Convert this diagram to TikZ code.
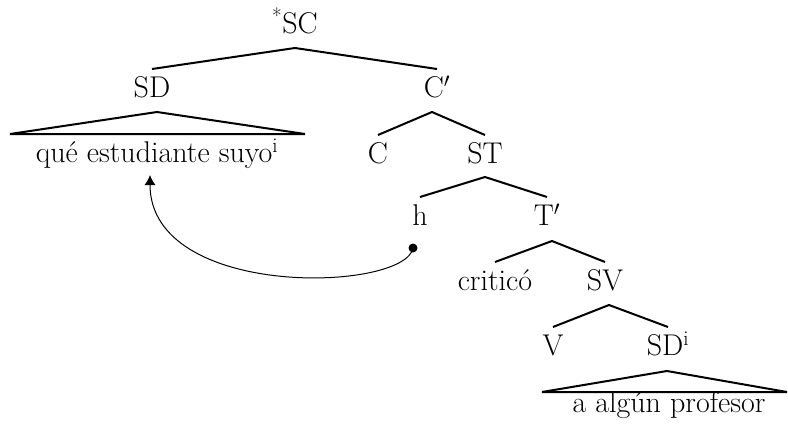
\documentclass[tikz,border=0pt]{standalone}
\usetikzlibrary{arrows.meta}
\begin{document}
\begin{tikzpicture}[x=1pt,y=-1pt,
  lab/.style={anchor=base,inner sep=0pt,font=\fontsize{30}{34}\selectfont},
  br/.style={line width=2pt},
  mv/.style={line width=1pt},
  dotn/.style={circle,fill=black,inner sep=0pt,minimum size=9pt}]
\useasboundingbox (0,0) rectangle (788,426);
% nodes
\node[lab] (SC) at (295,33) {\textsuperscript{*}SC};
\node[lab] (SD) at (152,97) {SD};
\node[lab] (Cp) at (437,97) {C$'$};
\node[lab] (que) at (157,162) {qué estudiante suyo\textsuperscript{i}};
\node[lab] (C) at (378,163) {C};
\node[lab] (ST) at (485,163) {ST};
\node[lab] (h) at (420,225) {h};
\node[lab] (Tp) at (547,225) {T$'$};
\node[lab] (crit) at (495,290) {criticó};
\node[lab] (SV) at (605,290) {SV};
\node[lab] (V) at (553,355) {V};
\node[lab] (SDi) at (668,355) {SD\textsuperscript{i}};
\node[lab] (alg) at (669,412) {a algún profesor};
% branches
\draw[br] ([yshift=28pt]SD.base) -- ([yshift=-15pt]SC.base) -- ([yshift=28pt]Cp.base);
\draw[br] ([yshift=28pt]C.base) -- ([xshift=-5pt,yshift=-15pt]Cp.base) -- ([yshift=28pt]ST.base);
\draw[br] ([yshift=28pt]h.base) -- ([yshift=-14pt]ST.base) -- ([yshift=28pt]Tp.base);
\draw[br] ([yshift=28pt]crit.base) -- ([xshift=5pt,yshift=-16pt]Tp.base) -- ([yshift=28pt]SV.base);
\draw[br] ([yshift=28pt]V.base) -- ([xshift=4pt,yshift=-15pt]SV.base) -- ([yshift=28pt]SDi.base);
% triangles
\draw[br,line join=miter] ([xshift=5pt,yshift=-15pt]SD.base) -- ([xshift=148pt,yshift=28pt]que.base) -- ([xshift=-147pt,yshift=28pt]que.base) -- cycle;
\draw[br,line join=miter] ([xshift=-1pt,yshift=-16pt]SDi.base) -- ([xshift=118pt,yshift=20pt]alg.base) -- ([xshift=-127pt,yshift=20pt]alg.base) -- cycle;
% movement
\node[dotn] (dot) at (413,248) {};
\coordinate (tip) at (150,175);
\draw[mv,-{Latex[length=10pt,width=11pt]}] (dot.center) .. controls (405,292) and (150,300) .. (tip);
\end{tikzpicture}
\end{document}
